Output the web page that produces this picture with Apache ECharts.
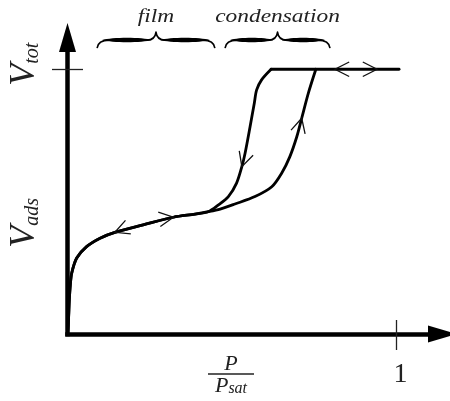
<!DOCTYPE html>
<html>
<head>
<meta charset="utf-8">
<script src="https://cdn.jsdelivr.net/npm/echarts@6/dist/echarts.min.js"></script>
<style>
  html, body { margin: 0; padding: 0; background: #fff; }
  #chart { width: 450px; height: 401px; }
</style>
</head>
<body>
<div id="chart"></div>
<script>
// Adsorption / desorption isotherm with capillary-condensation hysteresis.
// x: relative pressure P/Psat, y: adsorbed volume (V_tot = 1).

// Shared film-growth part, from the origin up to where the loop opens
const filmBranch = [
  [0, 0], [0.003, 0.053], [0.0055, 0.128], [0.0085, 0.185], [0.0128, 0.230],
  [0.028, 0.287], [0.058, 0.330], [0.099, 0.362], [0.144, 0.384], [0.230, 0.412],
  [0.322, 0.441], [0.388, 0.453], [0.428, 0.462]
];
// Adsorption: pores fill by condensation at higher pressure
const adsorptionRise = [
  [0.464, 0.472], [0.509, 0.491], [0.570, 0.519], [0.621, 0.556], [0.651, 0.607],
  [0.676, 0.670], [0.697, 0.745], [0.712, 0.815], [0.732, 0.909], [0.755, 1.0]
];
// Desorption: pores empty at lower pressure
const desorptionDrop = [
  [0.619, 1.0], [0.590, 0.960], [0.575, 0.922], [0.568, 0.873], [0.555, 0.783],
  [0.540, 0.684], [0.530, 0.632], [0.514, 0.570], [0.489, 0.519], [0.458, 0.487],
  [0.428, 0.462]
];
// Saturated plateau at V_tot
const plateau = [[0.619, 1.0], [0.813, 1.0], [0.941, 1.0], [1.008, 1.0]];

// Axis ticks and labels
const xTicks = [1];
const xTickLabels = ['1'];
const yTicks = [1];
const yTickLabels = ['{v|V}{s|tot}'];
const xName = '{n|P}\n{bar|}\n{d|P}{s|sat}';
const yName = '{v|V}{s|ads}';

// Regimes marked with braces above the plot
const regimes = ['film', 'condensation'];
const regimeSpans = [[0.09, 0.448], [0.479, 0.798]];
const BRACE_LEVEL = 1.08;

// Direction markers: [branch, index of the tip point, index of the point it heads to]
const branches = { film: filmBranch, ads: adsorptionRise, des: desorptionDrop, top: plateau };
const flowMarkers = [
  ['film', 8, 7],
  ['film', 10, 11],
  ['des', 6, 7],
  ['ads', 7, 8],
  ['top', 1, 0],
  ['top', 2, 3]
];

const adsorptionPath = filmBranch.concat(adsorptionRise);
const desorptionPath = desorptionDrop.concat(filmBranch.slice(0, -1).reverse());
const markerData = flowMarkers.map(([b, i, j]) => {
  const pts = branches[b];
  return [pts[i][0], pts[i][1], pts[j][0], pts[j][1]];
});
const braceData = regimeSpans.map(s => [s[0], s[1], BRACE_LEVEL]);

const INK = '#000';
const TEXT = '#222';
const SERIF = '"Liberation Serif", "Times New Roman", serif';
const mathStyle = (size, extra) => Object.assign({
  fontFamily: SERIF, fontStyle: 'italic', fontSize: size, color: TEXT
}, extra || {});

function renderChevron(params, api) {
  const tip = api.coord([api.value(0), api.value(1)]);
  const to = api.coord([api.value(2), api.value(3)]);
  const back = Math.atan2(to[1] - tip[1], to[0] - tip[0]) + Math.PI;
  const len = 16, half = 27 * Math.PI / 180;
  const a1 = [tip[0] + len * Math.cos(back + half), tip[1] + len * Math.sin(back + half)];
  const a2 = [tip[0] + len * Math.cos(back - half), tip[1] + len * Math.sin(back - half)];
  return {
    type: 'polyline',
    shape: { points: [a1, tip, a2] },
    style: { stroke: '#111', lineWidth: 1.3, fill: 'none' }
  };
}

function renderBrace(params, api) {
  const l = api.coord([api.value(0), api.value(2)]);
  const r = api.coord([api.value(1), api.value(2)]);
  const a = l[0], b = r[0], base = l[1];
  const m = (a + b) / 2, bar = base - 8, tip = base - 16;
  const outline =
    `M${a},${base} Q${a + 1},${bar} ${a + 12},${bar} L${m - 9},${bar} ` +
    `Q${m - 1},${bar} ${m},${tip} Q${m + 1},${bar} ${m + 9},${bar} ` +
    `L${b - 12},${bar} Q${b - 1},${bar} ${b},${base}`;
  // thick middle of each half-bar, tapering towards its ends
  const swell = (x1, x2) => {
    const w = x2 - x1;
    return `M${x1},${bar} C${x1 + w * 0.2},${bar - 3} ${x2 - w * 0.2},${bar - 3} ${x2},${bar} ` +
           `C${x2 - w * 0.2},${bar + 3} ${x1 + w * 0.2},${bar + 3} ${x1},${bar} Z`;
  };
  return {
    type: 'group',
    children: [
      { type: 'path', shape: { pathData: outline },
        style: { stroke: INK, lineWidth: 1.6, fill: 'none', lineJoin: 'round' } },
      { type: 'path', shape: { pathData: swell(a + 5, m - 4) }, style: { fill: INK, stroke: 'none' } },
      { type: 'path', shape: { pathData: swell(m + 4, b - 5) }, style: { fill: INK, stroke: 'none' } },
      { type: 'text', x: m, y: tip - 15, scaleX: 1.3,
        style: { text: regimes[params.dataIndex], fontFamily: SERIF, fontStyle: 'italic',
                 fontSize: 18, fill: TEXT, align: 'center', verticalAlign: 'middle' } }
    ]
  };
}

const chart = echarts.init(document.getElementById('chart'), null, { renderer: 'canvas' });

const curveStyle = { color: INK, width: 2.8, join: 'round', cap: 'round' };
const tickStyle = { color: TEXT, width: 1.3 };
const axisInk = { color: INK, width: 4.5, cap: 'square' };

chart.setOption({
  animation: false,
  grid: { left: 67.5, right: 7.5, top: 37.5, bottom: 67, containLabel: false, outerBoundsMode: 'none' },
  xAxis: [
    {
      type: 'value', min: 0, max: 1.14, position: 'bottom',
      axisLine: { show: true, onZero: false, lineStyle: axisInk,
                  symbol: ['none', 'triangle'], symbolSize: [17, 29] },
      axisTick: { show: true, customValues: xTicks, length: 16, lineStyle: tickStyle },
      axisLabel: {
        show: true, customValues: xTicks, margin: 27, padding: [0, 0, 0, 8],
        formatter: v => xTickLabels[xTicks.indexOf(v)] || '',
        fontFamily: SERIF, fontSize: 28, lineHeight: 28, color: TEXT
      },
      splitLine: { show: false },
      name: xName, nameLocation: 'middle', nameGap: 22, nameMoveOverlap: false,
      nameTextStyle: {
        padding: [0, 48, 0, 0], align: 'center',
        rich: {
          n: mathStyle(22, { lineHeight: 17, align: 'center' }),
          bar: { width: 46, height: 1.6, lineHeight: 2, backgroundColor: TEXT, align: 'center' },
          d: mathStyle(22, { lineHeight: 22, align: 'center' }),
          s: mathStyle(16, { lineHeight: 12, verticalAlign: 'bottom', align: 'center' })
        }
      }
    },
    {
      type: 'value', min: 0, max: 1.14, position: 'bottom', offset: 0,
      axisLine: { show: false },
      axisTick: { show: true, inside: true, customValues: xTicks, length: 14, lineStyle: tickStyle },
      axisLabel: { show: false },
      splitLine: { show: false }
    }
  ],
  yAxis: [
    {
      type: 'value', min: 0, max: 1.12, position: 'left',
      axisLine: { show: true, onZero: false, lineStyle: axisInk,
                  symbol: ['none', 'triangle'], symbolSize: [17, 29] },
      axisTick: { show: true, customValues: yTicks, length: 15.5, lineStyle: tickStyle },
      axisLabel: {
        show: true, customValues: yTicks, rotate: 90, margin: 25, padding: [0, 0, 0, 10],
        formatter: v => yTickLabels[yTicks.indexOf(v)] || '',
        rich: {
          v: mathStyle(36, { lineHeight: 36 }),
          s: mathStyle(20, { lineHeight: 24, verticalAlign: 'bottom' })
        }
      },
      splitLine: { show: false },
      name: yName, nameLocation: 'middle', nameRotate: 90, nameGap: 25, nameMoveOverlap: false,
      nameTextStyle: {
        padding: [0, 74, 0, 0],
        rich: {
          v: mathStyle(36, { lineHeight: 36 }),
          s: mathStyle(20, { lineHeight: 14, verticalAlign: 'bottom' })
        }
      }
    },
    {
      type: 'value', min: 0, max: 1.12, position: 'left', offset: 0,
      axisLine: { show: false },
      axisTick: { show: true, inside: true, customValues: yTicks, length: 15.5, lineStyle: tickStyle },
      axisLabel: { show: false },
      splitLine: { show: false }
    }
  ],
  series: [
    {
      name: 'adsorption', type: 'line', data: adsorptionPath, smooth: 0.3,
      symbol: 'none', showSymbol: false, clip: false, lineStyle: curveStyle, z: 3
    },
    {
      name: 'desorption', type: 'line', data: desorptionPath, smooth: 0.3,
      symbol: 'none', showSymbol: false, clip: false, lineStyle: curveStyle, z: 3
    },
    {
      name: 'saturation', type: 'line', data: plateau,
      symbol: 'none', showSymbol: false, clip: false, lineStyle: curveStyle, z: 3
    },
    {
      name: 'direction', type: 'custom', data: markerData, renderItem: renderChevron,
      encode: { x: [0, 2], y: [1, 3] }, clip: false, silent: true, z: 4
    },
    {
      name: 'regimes', type: 'custom', data: braceData, renderItem: renderBrace,
      encode: { x: [0, 1], y: 2 }, clip: false, silent: true, z: 4
    }
  ]
});
</script>
</body>
</html>
